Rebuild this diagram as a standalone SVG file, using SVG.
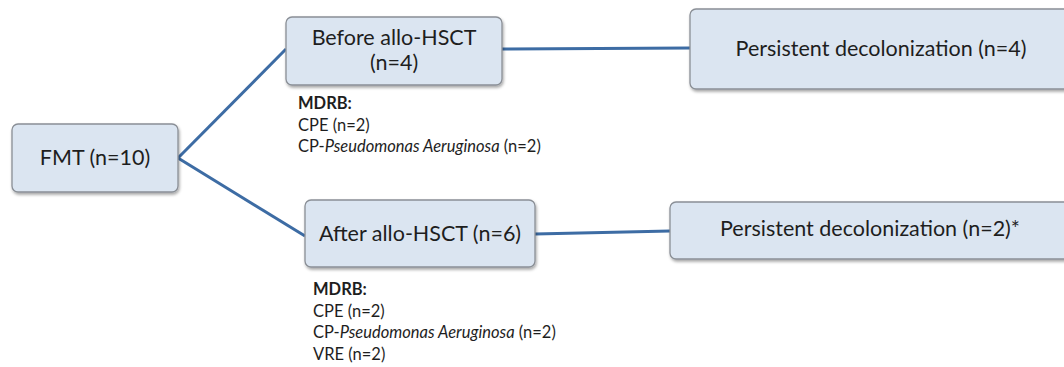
<svg xmlns="http://www.w3.org/2000/svg" width="1064" height="367" viewBox="0 0 1064 367">
<defs>
<filter id="sh" x="-10%" y="-10%" width="120%" height="130%">
<feDropShadow dx="1" dy="2" stdDeviation="1.5" flood-color="#000" flood-opacity="0.35"/>
</filter>
</defs>
<style>
.box{fill:#dbe5f1;stroke:#8a8f96;stroke-width:1.3;filter:url(#sh)}
.t{font-family:Lato,"Open Sans",sans-serif;font-size:21.5px;fill:#1e1e1e;text-anchor:middle}
.s{font-family:Lato,"Open Sans",sans-serif;font-size:16.5px;fill:#1e1e1e}
.b{font-weight:bold}
.c{stroke:#3d6ca4;stroke-width:3;fill:none}
</style>
<rect width="1064" height="367" fill="#fff"/>
<g id="connectors">
<line class="c" x1="178" y1="158" x2="286" y2="49"/>
<line class="c" x1="178" y1="158" x2="305" y2="236"/>
<line class="c" x1="502" y1="49" x2="690" y2="48"/>
<line class="c" x1="535" y1="234" x2="670" y2="231"/>
</g>
<g id="fmt">
<rect class="box" x="12" y="124" width="166" height="68" rx="6"/>
<text class="t" x="95" y="165">FMT (n=10)</text>
</g>
<g id="before">
<rect class="box" x="286" y="17" width="216" height="68" rx="6"/>
<text class="t" x="394" y="45">Before allo-HSCT</text>
<text class="t" x="394" y="70">(n=4)</text>
</g>
<g id="persistent1">
<rect class="box" x="690" y="9" width="384" height="80" rx="6"/>
<text class="t" x="881" y="56">Persistent decolonization (n=4)</text>
</g>
<g id="after">
<rect class="box" x="305" y="200" width="230" height="67" rx="6"/>
<text class="t" x="420" y="241">After allo-HSCT (n=6)</text>
</g>
<g id="persistent2">
<rect class="box" x="670" y="202" width="404" height="57" rx="6"/>
<text class="t" x="870" y="236">Persistent decolonization (n=2)*</text>
</g>
<g id="mdrb1">
<text class="s b" x="298" y="109">MDRB:</text>
<text class="s" x="298" y="131">CPE (n=2)</text>
<text class="s" x="298" y="152">CP-<tspan font-style="italic">Pseudomonas Aeruginosa</tspan> (n=2)</text>
</g>
<g id="mdrb2">
<text class="s b" x="313" y="295">MDRB:</text>
<text class="s" x="313" y="317">CPE (n=2)</text>
<text class="s" x="313" y="338">CP-<tspan font-style="italic">Pseudomonas Aeruginosa</tspan> (n=2)</text>
<text class="s" x="313" y="360">VRE (n=2)</text>
</g>
</svg>
